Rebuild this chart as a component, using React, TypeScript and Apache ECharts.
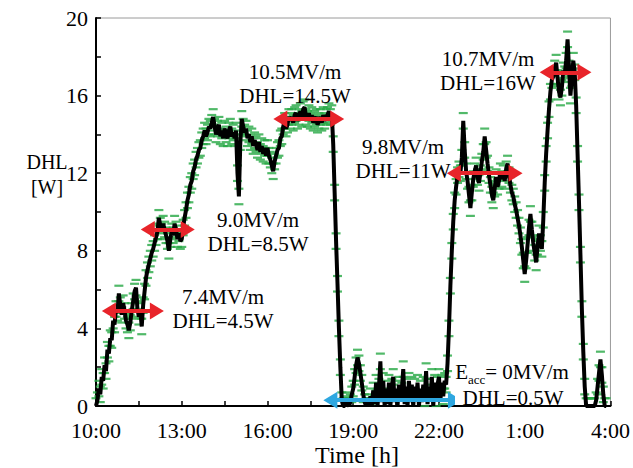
import React, { useEffect, useRef } from "react";
import * as echarts from "echarts";

// Sampling step of the recording, in hours (t = 0 is 10:00)
const STEP_H = 0.05;
const START_CLOCK = 10;

// DHL [W], one row per hour of recording (20 samples per row)
const DHL_H00 = [0.0, 0.3, 0.9, 0.6, 1.5, 1.3, 2.1, 1.8, 2.9, 2.7, 3.5, 3.4, 4.4, 4.2, 5.0, 4.8, 5.8, 5.2, 4.7, 5.3];
const DHL_H01 = [4.9, 4.4, 4.2, 3.9, 4.3, 4.9, 5.4, 5.9, 6.1, 5.0, 4.6, 4.9, 4.1, 5.2, 5.9, 6.6, 7.0, 7.3, 7.6, 7.9];
const DHL_H02 = [8.1, 8.4, 8.7, 9.0, 9.7, 9.3, 9.0, 9.4, 9.1, 8.8, 8.5, 8.0, 8.6, 9.0, 8.8, 9.4, 9.1, 8.6, 8.9, 8.5];
const DHL_H03 = [8.6, 9.2, 9.7, 10.1, 10.6, 10.9, 11.4, 11.6, 12.1, 12.3, 12.7, 12.9, 13.2, 13.3, 13.7, 13.9, 14.2, 13.9, 14.1, 14.4];
const DHL_H04 = [14.3, 14.6, 14.9, 14.4, 14.0, 14.3, 14.5, 13.9, 14.2, 13.8, 14.3, 14.0, 13.8, 14.2, 14.4, 13.9, 14.1, 13.8, 14.2, 12.0];
const DHL_H05 = [10.8, 13.6, 14.8, 14.4, 14.1, 14.3, 13.8, 14.0, 13.6, 13.9, 13.4, 13.7, 13.5, 13.2, 13.6, 13.1, 13.4, 13.0, 13.3, 12.9];
const DHL_H06 = [13.3, 12.9, 12.7, 12.4, 12.1, 12.6, 12.9, 13.2, 13.3, 13.8, 13.9, 14.4, 14.7, 14.3, 14.5, 14.9, 14.7, 14.9, 14.6, 15.0];
const DHL_H07 = [15.1, 14.7, 14.9, 15.2, 14.8, 15.3, 15.4, 14.9, 14.8, 15.1, 14.7, 15.0, 14.6, 14.8, 14.9, 14.5, 14.7, 14.9, 14.6, 15.0];
const DHL_H08 = [14.7, 14.9, 15.0, 15.2, 14.9, 15.1, 13.5, 11.0, 8.5, 6.3, 4.0, 2.0, 0.3, 0.0, 0.0, 0.3, 0.1, 0.0, 0.2, 0.6];
const DHL_H09 = [0.9, 1.5, 2.1, 2.5, 2.2, 1.7, 1.2, 0.6, 0.2, 0.0, 0.2, 0.0, 0.5, 0.0, 0.8, 0.1, 1.2, 0.0, 1.0, 2.3];
const DHL_H10 = [0.2, 1.3, 0.0, 0.9, 0.1, 1.2, 0.0, 1.0, 1.5, 0.2, 0.9, 0.0, 1.1, 0.3, 0.8, 1.9, 0.1, 1.0, 0.0, 1.3];
const DHL_H11 = [0.2, 1.1, 0.0, 1.0, 0.3, 1.2, 0.0, 0.9, 0.2, 1.1, 0.4, 1.8, 0.1, 1.0, 0.3, 1.5, 0.0, 1.2, 0.4, 1.1];
const DHL_H12 = [1.5, 0.3, 1.2, 0.5, 1.3, 1.1, 2.2, 4.0, 6.2, 8.0, 9.5, 10.6, 11.3, 11.9, 12.2, 12.0, 12.8, 14.7, 13.2, 12.1];
const DHL_H13 = [11.6, 10.9, 10.2, 11.0, 11.7, 12.1, 12.4, 11.8, 11.5, 12.0, 12.6, 13.1, 13.9, 13.2, 12.5, 11.9, 11.4, 10.9, 10.6, 11.2];
const DHL_H14 = [11.8, 11.3, 11.6, 12.1, 11.7, 12.0, 11.6, 12.2, 12.5, 11.9, 11.4, 11.0, 10.8, 10.4, 10.1, 9.7, 9.3, 8.8, 8.2, 7.5];
const DHL_H15 = [6.8, 7.5, 8.3, 9.2, 9.9, 9.1, 8.4, 7.9, 7.4, 8.2, 8.9, 8.4, 8.1, 9.6, 11.5, 13.0, 14.2, 15.3, 16.2, 16.8];
const DHL_H16 = [17.0, 17.4, 17.7, 16.9, 16.2, 15.9, 16.4, 17.3, 17.1, 17.8, 18.9, 17.4, 16.0, 16.9, 17.8, 17.2, 15.5, 13.0, 10.5, 7.8];
const DHL_H17 = [5.0, 2.8, 1.0, 0.0, 0.0, 0.0, 0.0, 0.0, 0.0, 0.0, 0.3, 1.0, 1.7, 2.4, 1.6, 0.6, 0.0, 0.0];

const DHL_VALUES = [
  ...DHL_H00, ...DHL_H01, ...DHL_H02, ...DHL_H03, ...DHL_H04, ...DHL_H05,
  ...DHL_H06, ...DHL_H07, ...DHL_H08, ...DHL_H09, ...DHL_H10, ...DHL_H11,
  ...DHL_H12, ...DHL_H13, ...DHL_H14, ...DHL_H15, ...DHL_H16, ...DHL_H17,
];

// measurement uncertainty [W]
const DHL_ERR = 0.4;

// Operating-condition arrows: [startHour, endHour, DHL level]
const RED_ARROWS = [
  [0.45, 2.13, 4.9],
  [1.81, 3.21, 9.1],
  [6.45, 8.44, 14.8],
  [12.52, 14.68, 12.0],
  [15.77, 17.09, 17.2],
];
const BLUE_ARROWS = [[8.2, 12.56, 0.3]];

// Annotation labels
const LABELS = [
  ["7.4MV/m", "DHL=4.5W"],
  ["9.0MV/m", "DHL=8.5W"],
  ["10.5MV/m", "DHL=14.5W"],
  ["9.8MV/m", "DHL=11W"],
  ["10.7MV/m", "DHL=16W"],
];
const ZERO_LABEL = ["= 0MV/m", "DHL=0.5W"];

const FONT = "'Liberation Serif', 'Times New Roman', serif";

export default function App() {
  const ref = useRef<HTMLDivElement>(null);

  useEffect(() => {
    if (!ref.current) return;
    const chart = echarts.init(ref.current, undefined, { renderer: "svg" });

    const lineData = DHL_VALUES.map((v, i) => [+(i * STEP_H).toFixed(2), v]);
    const capData: number[][] = [];
    lineData.forEach(([t, v]) => {
      capData.push([t, v + DHL_ERR]);
      capData.push([t, v - DHL_ERR]);
    });

    const arrowLines = (arr: number[][], color: string) =>
      arr.map(([a, b, y]) => [
        { coord: [a, y], lineStyle: { color, width: 4, type: "solid" } },
        { coord: [b, y] },
      ]);

    // centres of the two-line label blocks
    const labelPos = [
      [223, 309],
      [258, 232],
      [295, 84],
      [403, 159],
      [488, 71],
    ];

    const graphics: any[] = [];
    LABELS.forEach((lab, i) => {
      const [x, y] = labelPos[i];
      graphics.push({
        type: "text",
        x,
        y,
        style: {
          text: lab[0] + "\n" + lab[1],
          font: `21px ${FONT}`,
          fill: "#000",
          textAlign: "center",
          textVerticalAlign: "middle",
          lineHeight: 24,
        },
        z: 20,
      });
    });
    graphics.push({
      type: "rect",
      shape: { x: 455, y: 362, width: 114, height: 43 },
      style: { fill: "#fff" },
      z: 19,
    });
    graphics.push({
      type: "text",
      x: 512,
      y: 373,
      style: {
        text: "{e|E}{s|acc}{e|" + ZERO_LABEL[0] + "}",
        rich: {
          e: { font: `21px ${FONT}`, fill: "#000", verticalAlign: "bottom", lineHeight: 18 },
          s: { font: `13px ${FONT}`, fill: "#000", verticalAlign: "bottom", lineHeight: 18, padding: [0, 0, -4, 0] },
        },
        textAlign: "center",
        textVerticalAlign: "middle",
      },
      z: 20,
    });
    graphics.push({
      type: "text",
      x: 513,
      y: 398,
      style: {
        text: ZERO_LABEL[1],
        font: `21px ${FONT}`,
        fill: "#000",
        textAlign: "center",
        textVerticalAlign: "middle",
      },
      z: 20,
    });
    graphics.push({
      type: "text",
      x: 47,
      y: 174,
      style: {
        text: "DHL\n[W]",
        font: `20px ${FONT}`,
        fill: "#000",
        textAlign: "center",
        textVerticalAlign: "middle",
        lineHeight: 25,
      },
    });
    graphics.push({
      type: "text",
      x: 357,
      y: 455,
      style: {
        text: "Time [h]",
        font: `24px ${FONT}`,
        fill: "#000",
        textAlign: "center",
        textVerticalAlign: "middle",
      },
    });

    chart.setOption({
      animation: false,
      backgroundColor: "#fff",
      grid: {
        left: 96,
        right: 21,
        top: 18,
        bottom: 62,
        show: true,
        borderColor: "#9a9a9a",
        borderWidth: 1,
      },
      xAxis: {
        type: "value",
        min: 0,
        max: 18,
        interval: 3,
        axisLine: { show: true, onZero: false, lineStyle: { color: "#000", width: 2 } },
        axisTick: { show: true, inside: true, length: 5, lineStyle: { color: "#000", width: 1.5 } },
        minorTick: { show: true, splitNumber: 2, length: 5, lineStyle: { color: "#000", width: 1.5 } },
        splitLine: { show: false },
        axisLabel: {
          color: "#000",
          fontFamily: FONT,
          fontSize: 22,
          margin: 13,
          formatter: (v: number) => `${(START_CLOCK + v) % 24}:00`,
        },
      },
      yAxis: {
        type: "value",
        min: 0,
        max: 20,
        interval: 4,
        axisLine: { show: true, lineStyle: { color: "#000", width: 2 } },
        axisTick: { show: true, inside: true, length: 5, lineStyle: { color: "#000", width: 1.5 } },
        minorTick: { show: true, splitNumber: 2, length: 5, lineStyle: { color: "#000", width: 1.5 } },
        splitLine: { show: false },
        axisLabel: { color: "#000", fontFamily: FONT, fontSize: 22, margin: 8 },
      },
      series: [
        {
          type: "scatter",
          data: capData,
          symbol: "rect",
          symbolSize: [9, 2.2],
          itemStyle: { color: "#25a843" },
          z: 2,
          silent: true,
        },
        {
          type: "line",
          data: lineData,
          showSymbol: false,
          lineStyle: { color: "#000", width: 4 },
          z: 3,
          silent: true,
          markLine: {
            silent: true,
            symbol: ["triangle", "triangle"],
            symbolSize: [17, 14],
            label: { show: false },
            data: [
              ...arrowLines(RED_ARROWS, "#e8242a"),
              ...arrowLines(BLUE_ARROWS, "#2ea7e0"),
            ],
            z: 10,
          },
        },
      ],
      graphic: graphics,
    });

    return () => chart.dispose();
  }, []);

  return (
    <div
      ref={ref}
      style={{ position: "fixed", left: 0, top: 0, width: 633, height: 468 }}
    />
  );
}
